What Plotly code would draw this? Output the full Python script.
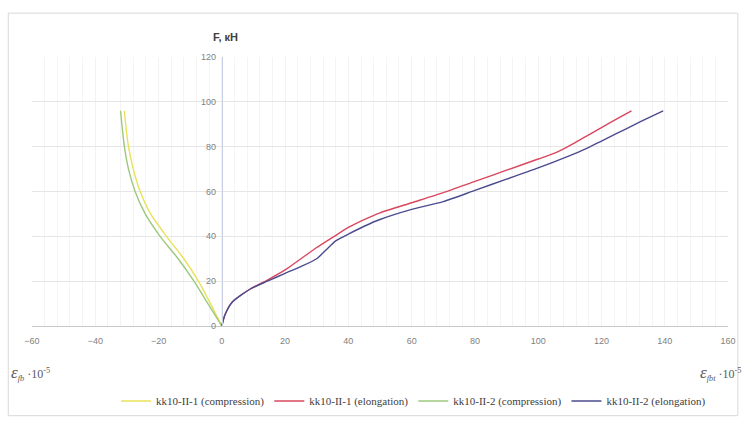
import plotly.graph_objects as go

# Load F, kN
f_comp = [0, 10, 20, 30, 40, 50, 60, 70, 80, 90, 96]
# Strain under compression, x1e-5 (negative side)
comp_1 = [0, -3.6, -7.4, -12.0, -17.5, -22.5, -25.8, -28.0, -29.5, -30.4, -30.8]
comp_2 = [0, -4.4, -8.8, -13.8, -19.5, -24.2, -27.4, -29.5, -30.8, -31.6, -32.0]

# Elongation strain, x1e-5, with the matching loads
elong_1_x = [0, 1, 3.4, 9, 14.4, 20, 25, 30, 35, 40, 45, 50, 60, 70, 80, 90, 100, 105, 110, 115, 120, 125, 129.5]
elong_1_f = [0, 5, 10.8, 16.5, 20.5, 25, 30, 35, 39.5, 44, 47.5, 50.5, 55, 59.5, 64.5, 69.5, 74.5, 77, 80.5, 84.5, 88.5, 92.5, 96]
elong_2_x = [0, 1, 3.4, 9, 14.4, 20, 25, 30, 33, 36, 40, 45, 50, 60, 70, 80, 90, 100, 110, 115, 120, 125, 130, 135, 139.5]
elong_2_f = [0, 5, 10.8, 16.5, 20, 23.5, 26.5, 30, 34, 38, 41, 44.5, 47.5, 52, 55.5, 60.5, 65.5, 70.5, 76, 79, 82.5, 86, 89.5, 93, 96]

x_ticks = [-60, -40, -20, 0, 20, 40, 60, 80, 100, 120, 140, 160]
y_ticks = [0, 20, 40, 60, 80, 100, 120]

names = ["kk10-II-1 (compression)", "kk10-II-1 (elongation)",
         "kk10-II-2 (compression)", "kk10-II-2 (elongation)"]
colors = ["#E8E25A", "#D8475E", "#9CC97E", "#4B4C8E"]

fig = go.Figure()
series = [(comp_1, f_comp), (elong_1_x, elong_1_f), (comp_2, f_comp), (elong_2_x, elong_2_f)]
for (xs, ys), name, col in zip(series, names, colors):
    fig.add_trace(go.Scatter(x=xs, y=ys, mode="lines", name=name,
                             line=dict(color=col, width=1.4, shape="spline", smoothing=0.6)))

W, H = 748, 427
L, R, T, B = 32, 12, 57, 94
pw, ph = W - L - R, H - T - B

def px_x(p):
    return (p - L) / pw

def px_y(p):
    return (H - B - p) / ph

fig.update_layout(
    width=W, height=H,
    margin=dict(l=L, r=R, t=T, b=B),
    paper_bgcolor="white", plot_bgcolor="white",
    showlegend=True,
    legend=dict(orientation="h", x=px_x(418), xanchor="center", y=px_y(410), yanchor="middle",
                font=dict(family="Liberation Serif", size=11, color="#404040"),
                itemwidth=30, tracegroupgap=0, bgcolor="rgba(0,0,0,0)"),
    xaxis=dict(range=[-60, 160], tickvals=x_ticks, showgrid=True, gridcolor="#F2F2F2",
               minor=dict(dtick=4, tick0=0, showgrid=True, gridcolor="#F4F4F4"),
               zeroline=False, showline=True, linecolor="#C8C8C8", linewidth=1,
               tickfont=dict(family="Liberation Sans", size=9, color="#7F7F7F"),
               ticks="", ticklabelstandoff=6),
    yaxis=dict(range=[0, 120], tickvals=y_ticks, showgrid=True, gridcolor="#E6E6E6",
               zeroline=False, showline=True, linecolor="#C9CDE2", linewidth=1,
               anchor="free", position=60 / 220, side="left",
               tickfont=dict(family="Liberation Sans", size=9, color="#7F7F7F"),
               ticks="", ticklabelstandoff=4),
    font=dict(family="Liberation Sans"),
)

# Outer chart frame
fig.add_shape(type="rect", xref="paper", yref="paper",
              x0=px_x(8), x1=px_x(746), y0=px_y(425), y1=px_y(12),
              line=dict(color="#D9D9D9", width=1), fillcolor="rgba(0,0,0,0)", layer="below")

fig.add_annotation(text="<b>F, кН</b>", xref="paper", yref="paper", x=px_x(228), y=px_y(36),
                   showarrow=False, xanchor="center", yanchor="middle",
                   font=dict(family="Liberation Sans", size=11, color="#404040"))
fig.add_annotation(text="<i><span style='font-size:17px'>ε</span><sub>fb</sub></i> ·10<sup>-5</sup>",
                   xref="paper", yref="paper",
                   x=px_x(9), y=px_y(381), showarrow=False, xanchor="left", yanchor="middle",
                   font=dict(family="Liberation Serif", size=12, color="#595959"))
fig.add_annotation(text="<i><span style='font-size:17px'>ε</span><sub>fbt</sub></i> ·10<sup>-5</sup>",
                   xref="paper", yref="paper",
                   x=px_x(752), y=px_y(381), showarrow=False, xanchor="right", yanchor="middle",
                   font=dict(family="Liberation Serif", size=12, color="#595959"))

fig.write_html("out.html")
